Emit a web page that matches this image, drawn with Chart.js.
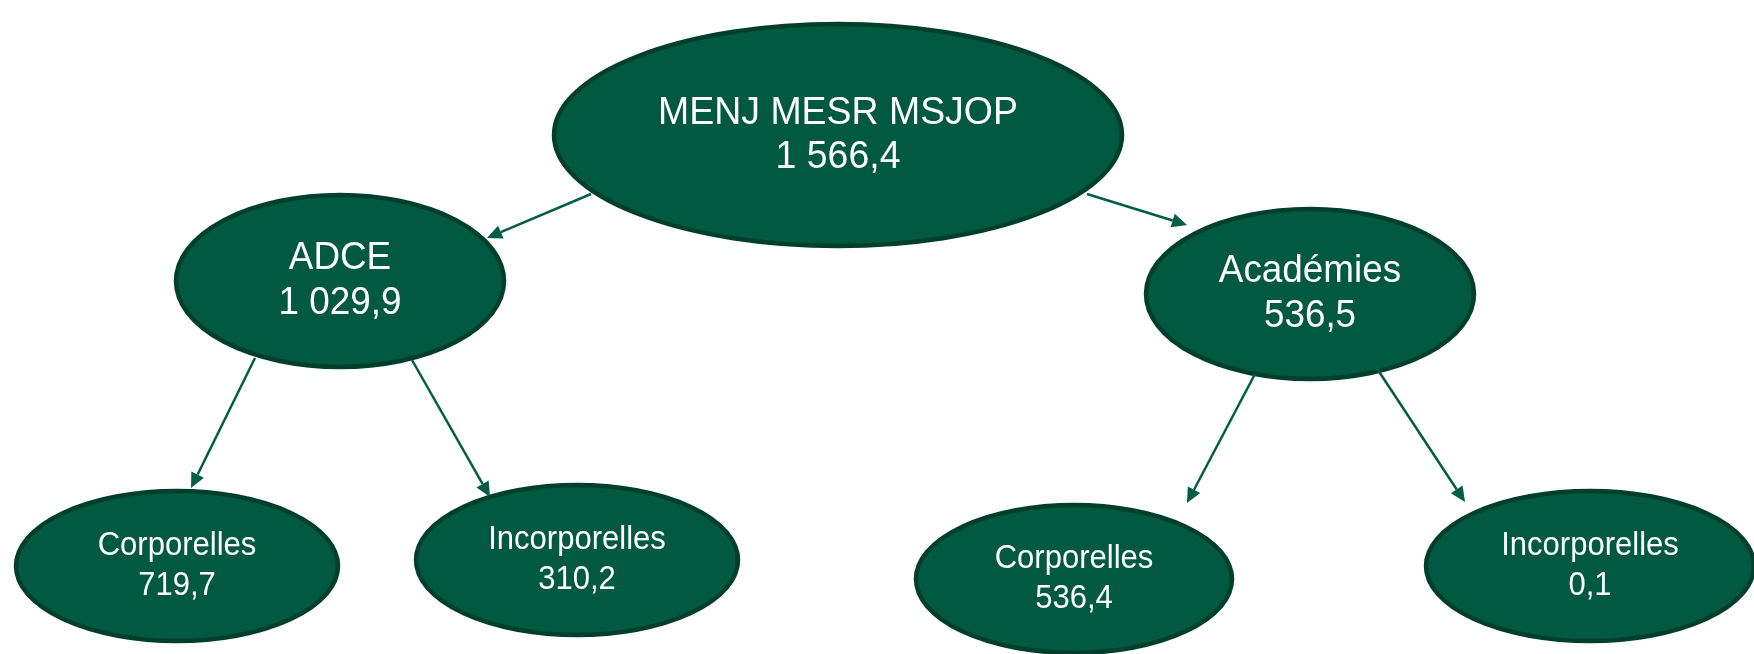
<!DOCTYPE html>
<html>
<head>
<meta charset="utf-8">
<script src="https://cdn.jsdelivr.net/npm/chart.js@4.4.1/dist/chart.umd.min.js"></script>
<style>
  html, body { margin: 0; padding: 0; background: #fff; }
  #wrap { width: 1754px; height: 654px; }
</style>
</head>
<body>
<div id="wrap"><canvas id="treeChart" width="1754" height="654"></canvas></div>
<script>
// node data
var nodeLabels = ['MENJ MESR MSJOP', 'ADCE', 'Académies', 'Corporelles', 'Incorporelles', 'Corporelles', 'Incorporelles'];
var nodeValues = [1566.4, 1029.9, 536.5, 719.7, 310.2, 536.4, 0.1];
var nodeParent = [null, 0, 0, 1, 1, 2, 2];

// layout (in scale units, the scale matches the page pixels)
var nodeX = [838, 340, 1310, 177, 577, 1074, 1590];
var nodeY = [135, 281, 294, 566, 560, 579, 566];
var nodeRx = [286, 166, 166, 163, 163, 160, 166];
var nodeRy = [113, 88, 87, 77, 77, 76, 77];
var nodeFont = [39, 38, 38, 33, 33, 33, 33];
var nodeSqueeze = [0.96, 0.97, 0.97, 0.94, 0.94, 0.94, 0.94];
var nodeLine = [44, 45, 45, 40, 40, 40, 40];

// arrows: start on parent, tip on child
var arrowFromX = [591, 1087, 255, 412, 1255, 1376];
var arrowFromY = [194, 194, 358, 360, 374, 367];
var arrowToX = [487, 1187, 191, 490, 1187, 1465];
var arrowToY = [238, 225, 488, 497, 503, 502];

var fillColor = '#005940';
var edgeColor = '#003f2c';
var arrowColor = '#005e42';

function fmt(v) {
    var parts = v.toFixed(1).split('.');
    var ent = parts[0].replace(/\B(?=(\d{3})+(?!\d))/g, ' ');
    return ent + ',' + parts[1];
}

var points = []
for (var i = 0; i < nodeLabels.length; i++) {
    points.push({ x: nodeX[i], y: nodeY[i] })
}

var treePlugin = {
    id: 'treePlugin',
    afterDatasetsDraw: function(chart) {
        var ctx = chart.ctx;
        var xs = chart.scales.x;
        var ys = chart.scales.y;

        ctx.save();
        // ellipses
        for (var i = 0; i < nodeLabels.length; i++) {
            var cx = xs.getPixelForValue(nodeX[i]);
            var cy = ys.getPixelForValue(nodeY[i]);
            var rx = Math.abs(xs.getPixelForValue(nodeX[i] + nodeRx[i]) - cx);
            var ry = Math.abs(ys.getPixelForValue(nodeY[i] + nodeRy[i]) - cy);
            ctx.beginPath();
            ctx.ellipse(cx, cy, rx - 2, ry - 2, 0, 0, Math.PI * 2);
            ctx.fillStyle = fillColor;
            ctx.fill();
            ctx.lineWidth = 4.5;
            ctx.strokeStyle = edgeColor;
            ctx.stroke();

            ctx.save();
            ctx.translate(cx, cy);
            ctx.scale(nodeSqueeze[i], 1);
            ctx.fillStyle = '#ffffff';
            ctx.font = nodeFont[i] + 'px "Liberation Sans", Arial, sans-serif';
            ctx.textAlign = 'center';
            ctx.textBaseline = 'middle';
            var lh = nodeLine[i];
            ctx.fillText(nodeLabels[i], 0, -lh / 2);
            ctx.fillText(fmt(nodeValues[i]), 0, lh / 2);
            ctx.restore();
        }

        // arrows
        ctx.strokeStyle = arrowColor;
        ctx.fillStyle = arrowColor;
        ctx.lineWidth = 2.5;
        for (var j = 0; j < arrowFromX.length; j++) {
            var x1 = xs.getPixelForValue(arrowFromX[j]);
            var y1 = ys.getPixelForValue(arrowFromY[j]);
            var x2 = xs.getPixelForValue(arrowToX[j]);
            var y2 = ys.getPixelForValue(arrowToY[j]);
            var ang = Math.atan2(y2 - y1, x2 - x1);
            var hl = 15, hw = 7;
            var bx = x2 - hl * Math.cos(ang);
            var by = y2 - hl * Math.sin(ang);
            ctx.beginPath();
            ctx.moveTo(x1, y1);
            ctx.lineTo(bx, by);
            ctx.stroke();
            ctx.beginPath();
            ctx.moveTo(x2, y2);
            ctx.lineTo(bx + hw * Math.sin(ang), by - hw * Math.cos(ang));
            ctx.lineTo(bx - hw * Math.sin(ang), by + hw * Math.cos(ang));
            ctx.closePath();
            ctx.fill();
        }
        ctx.restore();
    }
};

var ctx = document.getElementById('treeChart').getContext('2d');
var treeChart = new Chart(ctx, {
    type: 'scatter',
    data: {
        datasets: [{
            label: 'Noeuds',
            data: points,
            pointRadius: 0,
            pointHoverRadius: 0
        }]
    },
    options: {
        responsive: false,
        animation: false,
        devicePixelRatio: 1,
        layout: { padding: 0 },
        scales: {
            x: { type: 'linear', min: 0, max: 1754, display: false },
            y: { type: 'linear', min: 0, max: 654, reverse: true, display: false }
        },
        plugins: {
            legend: { display: false },
            tooltip: { enabled: false }
        }
    },
    plugins: [treePlugin]
});
</script>
</body>
</html>
